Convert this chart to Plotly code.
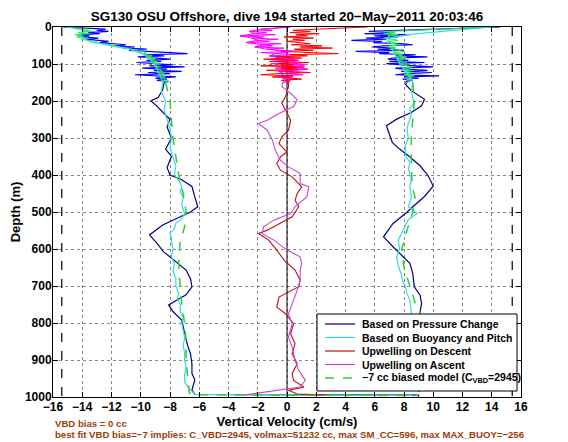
import plotly.graph_objects as go

# ---------------- data ----------------
raw_depth = list(range(0, 151, 3))

desc_raw_press = [-15.3, -13.5, -12.4, -13.0, -12.2, -13.6, -12.8, -14.2, -13.5, -14.0, -12.9, -13.8, -13.0, -12.2,
                  -12.8, -11.6, -11.0, -11.8, -10.4, -11.2, -9.6, -10.8, -9.2, -7.4, -6.8, -9.8, -8.4, -10.2, -9.0,
                  -8.0, -9.6, -8.6, -10.3, -8.8, -7.8, -9.4, -7.0, -9.9, -8.2, -9.1, -7.2, -9.5, -8.0, -10.4, -8.6,
                  -7.6, -9.0, -8.2, -8.9, -8.1, -8.4]
desc_raw_model = [-15.1, -14.5, -13.6, -14.0, -13.2, -14.3, -13.6, -14.5, -14.0, -14.4, -13.6, -14.1, -13.4, -13.0,
                  -13.2, -12.4, -12.0, -11.8, -11.3, -11.0, -10.6, -10.4, -10.0, -9.6, -9.8, -9.6, -9.2, -9.6, -9.0,
                  -9.2, -9.3, -8.9, -9.4, -8.8, -8.9, -9.1, -8.6, -9.0, -8.8, -8.7, -8.5, -8.9, -8.4, -8.8, -8.5,
                  -8.3, -8.6, -8.3, -8.5, -8.2, -8.3]
asc_raw_press = [14.6, 12.5, 10.2, 8.0, 5.6, 7.2, 5.3, 8.4, 6.0, 7.6, 5.4, 6.8, 4.4, 6.5, 5.9, 7.8, 8.6, 6.6, 5.8,
                 7.4, 6.2, 8.0, 4.7, 7.0, 6.3, 8.8, 7.4, 9.6, 7.2, 6.9, 8.3, 7.0, 9.4, 6.8, 7.6, 8.8, 10.0, 7.4, 8.0,
                 9.6, 7.8, 9.9, 8.2, 7.4, 10.4, 8.0, 9.0, 7.9, 8.6, 8.2, 8.1]
asc_raw_model = [14.2, 12.0, 9.8, 8.2, 6.8, 7.4, 6.6, 7.6, 6.9, 7.0, 6.6, 7.2, 7.6, 7.0, 6.8, 7.3, 7.8, 7.1, 6.9,
                 7.4, 7.0, 7.6, 8.0, 7.4, 7.2, 7.9, 7.6, 8.2, 7.6, 7.5, 7.9, 7.6, 8.2, 7.7, 7.9, 8.2, 8.6, 7.9, 8.1,
                 8.5, 8.0, 8.6, 8.2, 8.0, 8.7, 8.2, 8.5, 8.2, 8.5, 8.3, 8.3]
raw_up_desc = [5.5, 3.2, 2.0, 0.4, 1.6, 0.2, 2.2, 0.6, 1.4, -0.2, 1.8, 0.4, 1.2, 0.0, 0.8, 1.6, 0.3, 2.4, 0.9, 3.1,
               0.5, 1.8, -0.4, 1.2, 3.5, 0.2, 1.4, -0.8, 1.0, -1.6, 0.6, -1.2, 1.5, -0.6, 0.4, -1.8, 1.2, -0.4, 0.8,
               -1.4, 0.6, 1.6, -0.6, -1.8, 0.4, -1.0, 0.3, 1.0, -0.4, 0.2, 0.1]
raw_up_asc = [0.2, -0.6, -1.8, -1.0, -2.6, -1.4, -2.2, -0.8, -3.2, -1.6, -2.4, -0.6, -2.0, -1.2, -2.8, -0.4, -1.6,
              -1.0, -2.2, -0.2, -1.4, -0.6, 0.4, -1.8, -0.8, 0.6, -1.2, 0.2, -0.4, -1.0, 0.8, -0.6, 0.2, -1.1, 1.2,
              -0.4, 0.6, -0.8, 1.4, 0.0, -0.6, 0.9, -0.2, 1.1, -0.5, 0.4, -0.3, 0.6, -0.1, 0.2, -0.3]

# smoothed profiles (depth, velocity)
press_depth = [150, 170, 190, 200, 210, 230, 250, 270, 300, 330, 350, 380, 400, 413, 431, 460, 486, 500, 513, 535,
               562, 584, 607, 625, 657, 680, 702, 724, 751, 769, 792, 828, 860, 883, 910, 936, 954, 981, 993, 995,
               997, 1000, 1002]
press_vel = [-8.4, -8.5, -8.8, -9.3, -9.0, -8.5, -8.0, -8.2, -7.9, -8.3, -7.9, -8.2, -8.0, -7.2, -6.5, -6.3, -6.1,
             -6.6, -7.3, -8.5, -9.4, -8.9, -8.45, -7.9, -6.9, -6.6, -6.5, -6.9, -8.1, -7.8, -7.2, -7.0, -6.8, -6.6,
             -6.5, -6.5, -6.3, -6.5, -6.3, 9.0, 9.0, 9.0, 9.0]
asc_press_depth = [150, 155, 172, 195, 213, 231, 249, 267, 290, 312, 330, 348, 375, 402, 430, 458, 486, 504, 531,
                   567, 594, 612, 639, 666, 702, 725, 747, 770, 800, 850, 900, 950, 985]
asc_press_vel = [8.2, 8.1, 8.5, 9.4, 9.2, 8.5, 7.5, 6.8, 7.0, 7.2, 7.7, 8.3, 9.1, 9.65, 10.0, 9.4, 8.6, 8.1, 7.25,
                 6.6, 7.25, 7.7, 8.4, 8.6, 8.7, 9.1, 9.2, 9.1, 9.0, 9.2, 9.0, 9.1, 9.0]

buoy_depth = [0, 10, 20, 30, 40, 50, 60, 70, 80, 90, 100, 110, 120, 130, 140, 150, 175, 200, 225, 250, 275, 300,
              325, 350, 375, 400, 415, 431, 445, 460, 480, 504, 520, 530, 545, 557, 570, 580, 600, 620, 640, 660,
              680, 700, 720, 734, 750, 770, 785, 800, 820, 840, 860, 880, 900, 920, 940, 960, 981, 993, 996]
buoy_vel = [-15.0, -13.8, -14.2, -14.0, -13.4, -12.0, -10.8, -10.0, -9.6, -9.3, -9.1, -8.9, -8.8, -8.7, -8.6, -8.5,
            -8.6, -8.3, -8.4, -8.2, -8.0, -7.9, -8.0, -7.8, -7.6, -7.7, -7.4, -7.2, -7.3, -7.1, -7.2, -7.0, -7.2,
            -7.6, -7.7, -8.0, -7.9, -7.9, -7.8, -7.9, -7.7, -7.8, -7.6, -7.6, -7.4, -7.5, -7.3, -7.3, -7.1, -7.2,
            -7.1, -7.0, -7.1, -7.0, -7.0, -6.9, -7.0, -7.0, -6.6, -6.3, 8.6]
asc_buoy_depth = [0, 10, 20, 30, 40, 50, 60, 70, 80, 90, 100, 110, 120, 130, 140, 150, 175, 204, 220, 240, 260,
                  276, 300, 321, 348, 365, 384, 410, 430, 460, 486, 504, 520, 549, 576, 600, 621, 645, 666, 685, 702,
                  720, 738, 770, 820, 870, 920, 960, 985]
asc_buoy_vel = [14.0, 11.0, 8.4, 7.0, 6.9, 7.0, 7.2, 7.3, 7.5, 7.6, 7.7, 7.9, 8.1, 8.3, 8.5, 8.6, 8.5, 8.7, 8.4,
                8.5, 8.3, 8.2, 8.3, 8.1, 8.1, 8.4, 8.3, 8.5, 8.4, 8.5, 8.3, 8.9, 8.3, 7.95, 7.6, 7.7, 7.5, 7.6, 7.8,
                7.9, 8.1, 8.2, 8.4, 8.5, 8.6, 8.6, 8.7, 8.7, 8.6]

model_depth = [150, 200, 250, 300, 350, 400, 450, 500, 540, 580, 620, 660, 700, 750, 800, 850, 900, 950, 985, 994,
               996]
model_vel = [-8.3, -8.0, -7.9, -7.8, -7.6, -7.4, -7.1, -6.9, -7.0, -7.3, -7.4, -7.4, -7.3, -7.2, -7.0, -6.9, -6.9,
             -6.8, -6.7, -6.6, 9.0]
asc_model_depth = [150, 200, 250, 300, 350, 400, 430, 460, 500, 550, 600, 650, 700, 750, 770, 820, 870, 920, 970,
                   990]
asc_model_vel = [8.6, 8.7, 8.6, 8.5, 8.5, 8.55, 8.55, 8.75, 8.6, 8.2, 7.85, 8.0, 8.4, 8.8, 9.1, 9.0, 9.0, 9.0, 9.0,
                 9.0]

up_desc_depth = [150, 161, 188, 206, 224, 252, 279, 297, 315, 338, 351, 369, 387, 405, 432, 450, 468, 486, 513, 531,
                 549, 558, 576, 603, 630, 657, 684, 702, 730, 757, 775, 802, 829, 856, 883, 910, 937, 955, 973, 982,
                 992, 995]
up_desc_vel = [0.1, 0.1, -0.1, -0.35, -0.1, 0.25, 0.1, -0.35, -0.55, 0.0, -0.45, -0.7, -0.45, 0.35, 1.0, 0.7, 0.55,
               0.8, 0.35, -0.55, -1.35, -1.95, -1.25, -0.7, -0.2, 0.55, 0.9, 0.8, -0.55, -0.7, -0.1, 0.45, 0.25,
               0.55, 0.35, 0.7, 0.35, 0.45, 1.15, 0.1, 0.7, 3.0]
up_asc_depth = [150, 161, 179, 197, 215, 234, 252, 261, 279, 306, 333, 360, 378, 396, 423, 432, 459, 486, 504, 522,
                540, 558, 576, 603, 621, 639, 657, 684, 711, 747, 775, 802, 838, 865, 901, 928, 955, 973, 986, 995]
up_asc_vel = [-0.3, -0.35, 0.25, 0.7, 0.45, -0.55, -1.35, -1.95, -1.35, -1.0, -0.8, -0.45, 0.1, 0.9, 0.9, 1.5, 1.35,
              0.55, 0.25, -0.9, -1.6, -1.7, -0.9, 0.0, 0.9, 1.0, 0.9, 0.9, 0.7, 0.35, 0.1, 0.35, 0.1, 0.35, 0.55,
              0.8, 1.25, 0.9, -1.4, -3.0]

bound_vel = [-15.4, 15.4]
depth_span = [0, 1000]

x_ticks = [-16, -14, -12, -10, -8, -6, -4, -2, 0, 2, 4, 6, 8, 10, 12, 14, 16]
y_ticks = [0, 100, 200, 300, 400, 500, 600, 700, 800, 900, 1000]

legend_names = ["Based on Pressure Change", "Based on Buoyancy and Pitch", "Upwelling on Descent",
                "Upwelling on Ascent", "\u22127 cc biased model (C<sub>VBD</sub>=2945)"]

title_text = "SG130 OSU Offshore, dive 194 started 20\u2212May\u22122011 20:03:46"
note1 = "VBD bias = 0 cc"
note2 = "best fit VBD bias=\u22127 implies: C_VBD=2945, volmax=51232 cc, max SM_CC=596, max MAX_BUOY=\u2212256"

# ---------------- colours ----------------
C_PRESS = "#000088"
C_BUOY = "#33DDDD"
C_UPD = "#BB1111"
C_UPA = "#CC44CC"
C_MODEL = "#33CC33"
C_RAW_B = "#0000FF"
C_RAW_G = "#22EE44"
C_RAW_R = "#FF0000"
C_RAW_M = "#FF00FF"
BROWN = "#9C3D0A"
FONT = "Liberation Sans"

legend_colors = [C_PRESS, C_BUOY, C_UPD, C_UPA, C_MODEL]
legend_dash = ["solid", "solid", "solid", "solid", "dash"]

fig = go.Figure()


def line(x, y, color, width=1.1, dash="solid", name=None):
    fig.add_trace(go.Scatter(x=x, y=y, mode="lines", name=name, showlegend=False,
                             line=dict(color=color, width=width, dash=dash), hoverinfo="skip"))


# reference lines
line([0, 0], depth_span, "black", 1)
line([bound_vel[0]] * 2, depth_span, "black", 1.2, "dash")
line([bound_vel[1]] * 2, depth_span, "black", 1.2, "dash")

# raw near-surface data
line(raw_up_asc, raw_depth, C_RAW_M, 1)
line(raw_up_desc, raw_depth, C_RAW_R, 1)
line(raw_up_asc[::2], raw_depth[::2], C_RAW_M, 1)
line(desc_raw_press, raw_depth, C_RAW_B, 1.2)
line(asc_raw_press, raw_depth, C_RAW_B, 1.2)
line(desc_raw_model, raw_depth, C_RAW_G, 1.1)
line(asc_raw_model, raw_depth, C_RAW_G, 1.1)

# smoothed
line(press_vel, press_depth, C_PRESS, 1.2, name=legend_names[0])
line(asc_press_vel, asc_press_depth, C_PRESS, 1.2)
line(buoy_vel, buoy_depth, C_BUOY, 1.2, name=legend_names[1])
line(asc_buoy_vel, asc_buoy_depth, C_BUOY, 1.2)
line(up_desc_vel, up_desc_depth, C_UPD, 1.1, name=legend_names[2])
line(up_asc_vel, up_asc_depth, C_UPA, 1.1, name=legend_names[3])
line(model_vel, model_depth, C_MODEL, 1.5, "dash", name=legend_names[4])
line(asc_model_vel, asc_model_depth, C_MODEL, 1.5, "dash")

# ---------------- layout geometry (figure offset by the 8px page margin) ----------------
W, H = 560, 434
ML, MR, MT, MB = 45, 47, 19, 45
PW, PH = W - ML - MR, H - MT - MB


def px_x(fx):
    return (fx - ML) / PW


def px_y(fy):
    return (H - MB - fy) / PH


shapes = [dict(type="rect", xref="paper", yref="paper", x0=px_x(309), x1=px_x(509), y0=px_y(383), y1=px_y(306),
               fillcolor="white", line=dict(color="black", width=1), layer="above")]
annotations = []
row_y = [316, 329.5, 343, 356.5, 370]
for name, col, dsh, ry in zip(legend_names, legend_colors, legend_dash, row_y):
    shapes.append(dict(type="line", xref="paper", yref="paper", x0=px_x(317), x1=px_x(347), y0=px_y(ry),
                       y1=px_y(ry), line=dict(color=col, width=1.5 if dsh == "dash" else 1.2, dash=dsh),
                       layer="above"))
    annotations.append(dict(text="<b>" + name + "</b>", xref="paper", yref="paper", x=px_x(352), y=px_y(ry),
                            xanchor="left", yanchor="middle", showarrow=False,
                            font=dict(family=FONT, size=10.5, color="black")))

annotations += [
    dict(text="<b>" + note1 + "</b>", xref="paper", yref="paper", x=px_x(45), y=px_y(415), xanchor="left",
         yanchor="middle", showarrow=False, font=dict(family=FONT, size=9.6, color=BROWN)),
    dict(text="<b>" + note2 + "</b>", xref="paper", yref="paper", x=px_x(45), y=px_y(426.5), xanchor="left",
         yanchor="middle", showarrow=False, font=dict(family=FONT, size=9.6, color=BROWN)),
]

axis_common = dict(showline=True, linecolor="black", linewidth=1, mirror="ticks", ticks="inside", ticklen=5,
                   tickcolor="black", showgrid=True, gridcolor="#888888", griddash="dot", gridwidth=1,
                   zeroline=False, automargin=False,
                   tickfont=dict(family=FONT, size=12, color="black", weight="bold"))

fig.update_layout(
    width=W, height=H,
    margin=dict(l=ML, r=MR, t=MT, b=MB),
    paper_bgcolor="white", plot_bgcolor="white",
    font=dict(family=FONT, color="black"),
    showlegend=False,
    title=dict(text="<b>" + title_text + "</b>", x=(ML + PW / 2) / W, xanchor="center", y=1 - 8 / H,
               yanchor="middle", font=dict(family=FONT, size=13.5, color="black")),
    xaxis=dict(range=[-16, 16], tickvals=x_ticks, ticklabelstandoff=-1,
               title=dict(text="<b>Vertical Velocity (cm/s)</b>", standoff=0,
                          font=dict(family=FONT, size=13, color="black")), **axis_common),
    yaxis=dict(range=[1000, 0], tickvals=y_ticks, ticklabelstandoff=-2,
               title=dict(text="<b>Depth (m)</b>", standoff=6,
                          font=dict(family=FONT, size=13, color="black")), **axis_common),
    shapes=shapes,
    annotations=annotations,
)

fig.write_html("out.html")
